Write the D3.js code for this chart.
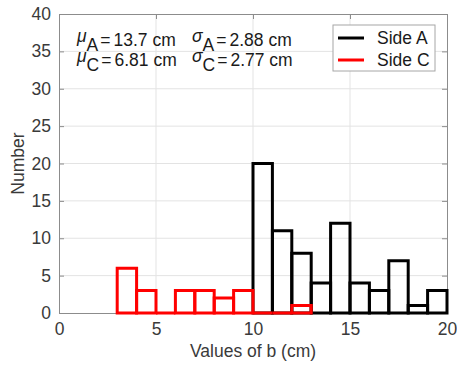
<!DOCTYPE html>
<html>
<head>
<meta charset="utf-8">
<script src="https://cdn.jsdelivr.net/npm/d3@7"></script>
<style>
  body { margin: 0; background: #fff; }
  svg { display: block; font-family: "Liberation Sans", Arial, sans-serif; }
</style>
</head>
<body>
<div id="chart"></div>
<script>
// bin left edges (cm), bin width 1
const binsA = [10, 11, 12, 13, 14, 15, 16, 17, 18, 19];
const countsA = [20, 11, 8, 4, 12, 4, 3, 7, 1, 3];
const binsC = [3, 4, 5, 6, 7, 8, 9, 10, 11, 12];
const countsC = [6, 3, 0, 3, 3, 2, 3, 0, 0, 1];
const xTicks = [0, 5, 10, 15, 20];
const yTicks = [0, 5, 10, 15, 20, 25, 30, 35, 40];
const seriesNames = ["Side A", "Side C"];
const seriesColors = ["#000000", "#ff0000"];

const width = 457;
const height = 365;
const margin = {top: 14, right: 10, bottom: 52, left: 59};

const x = d3.scaleLinear().domain([0, 20]).range([margin.left, width - margin.right]);
const y = d3.scaleLinear().domain([0, 40]).range([height - margin.bottom, margin.top]);

const svg = d3.select("#chart").append("svg")
    .attr("width", width)
    .attr("height", height);

const axisColor = "#8c8c8c";
const textColor = "#3a3a3a";
const fs = 17.5;

// grid
svg.append("g")
    .selectAll("line")
    .data(xTicks.slice(1, -1))
    .join("line")
    .attr("x1", d => x(d)).attr("x2", d => x(d))
    .attr("y1", y(0)).attr("y2", y(40))
    .attr("stroke", "#e3e3e3");
svg.append("g")
    .selectAll("line")
    .data(yTicks.slice(1, -1))
    .join("line")
    .attr("y1", d => y(d)).attr("y2", d => y(d))
    .attr("x1", x(0)).attr("x2", x(20))
    .attr("stroke", "#e3e3e3");

// axes with inward ticks on all four sides
const styleAxis = g => {
    g.selectAll(".domain").attr("stroke", axisColor);
    g.selectAll(".tick line").attr("stroke", axisColor);
    g.selectAll("text").attr("fill", textColor).attr("font-size", fs)
        .attr("font-family", "Liberation Sans, Arial, sans-serif");
};

svg.append("g")
    .attr("transform", `translate(0,${y(0)})`)
    .call(d3.axisBottom(x).tickValues(xTicks).tickSizeInner(-5).tickSizeOuter(0).tickPadding(10))
    .call(styleAxis);
svg.append("g")
    .attr("transform", `translate(0,${y(40)})`)
    .call(d3.axisTop(x).tickValues(xTicks).tickSizeInner(-5).tickSizeOuter(0).tickFormat(""))
    .call(styleAxis);
svg.append("g")
    .attr("transform", `translate(${x(0)},0)`)
    .call(d3.axisLeft(y).tickValues(yTicks).tickSizeInner(-5).tickSizeOuter(0).tickPadding(8))
    .call(styleAxis);
svg.append("g")
    .attr("transform", `translate(${x(20)},0)`)
    .call(d3.axisRight(y).tickValues(yTicks).tickSizeInner(-5).tickSizeOuter(0).tickFormat(""))
    .call(styleAxis);

// axis labels
svg.append("text")
    .attr("x", (x(0) + x(20)) / 2)
    .attr("y", 357)
    .attr("text-anchor", "middle")
    .attr("font-size", fs)
    .attr("fill", textColor)
    .text("Values of b (cm)");
svg.append("text")
    .attr("transform", `translate(24,${(y(0) + y(40)) / 2}) rotate(-90)`)
    .attr("text-anchor", "middle")
    .attr("font-size", fs)
    .attr("fill", textColor)
    .text("Number");

// histogram bars (outline only, zero bins drawn as a flat line)
const drawBars = (bins, counts, color) => {
    svg.append("g")
        .selectAll("path")
        .data(bins.map((b, i) => ({b, c: counts[i]})))
        .join("path")
        .attr("d", d => `M${x(d.b)},${y(0)}V${y(d.c)}H${x(d.b + 1)}V${y(0)}Z`)
        .attr("fill", "none")
        .attr("stroke", color)
        .attr("stroke-width", 3);
};
drawBars(binsA, countsA, seriesColors[0]);
drawBars(binsC, countsC, seriesColors[1]);

// statistics annotation
const stats = [
    {sym: "\u03bc", sub: "A", val: "13.7 cm", col: 0, row: 0},
    {sym: "\u03c3", sub: "A", val: "2.88 cm", col: 1, row: 0},
    {sym: "\u03bc", sub: "C", val: "6.81 cm", col: 0, row: 1},
    {sym: "\u03c3", sub: "C", val: "2.77 cm", col: 1, row: 1}
];
const colX = [77, 192];
const rowY = [46, 66];
stats.forEach(s => {
    const t = svg.append("text")
        .attr("x", colX[s.col])
        .attr("y", rowY[s.row])
        .attr("font-size", fs)
        .attr("fill", "#1a1a1a");
    t.append("tspan").attr("font-style", "italic").attr("dy", -4).text(s.sym);
    t.append("tspan").attr("dy", 9).text(s.sub);
    t.append("tspan").attr("dy", -5).attr("dx", 2).text("=");
    t.append("tspan").attr("dx", 3).text(s.val);
});

// legend
const lg = svg.append("g");
lg.append("rect")
    .attr("x", 333).attr("y", 25)
    .attr("width", 102).attr("height", 46)
    .attr("fill", "#fff")
    .attr("stroke", "#a6a6a6");
seriesNames.forEach((name, i) => {
    lg.append("line")
        .attr("x1", 338).attr("x2", 364)
        .attr("y1", 38 + i * 22).attr("y2", 38 + i * 22)
        .attr("stroke", seriesColors[i])
        .attr("stroke-width", 3);
    lg.append("text")
        .attr("x", 377)
        .attr("y", 44 + i * 22)
        .attr("font-size", fs)
        .attr("fill", "#1a1a1a")
        .text(name);
});
</script>
</body>
</html>
